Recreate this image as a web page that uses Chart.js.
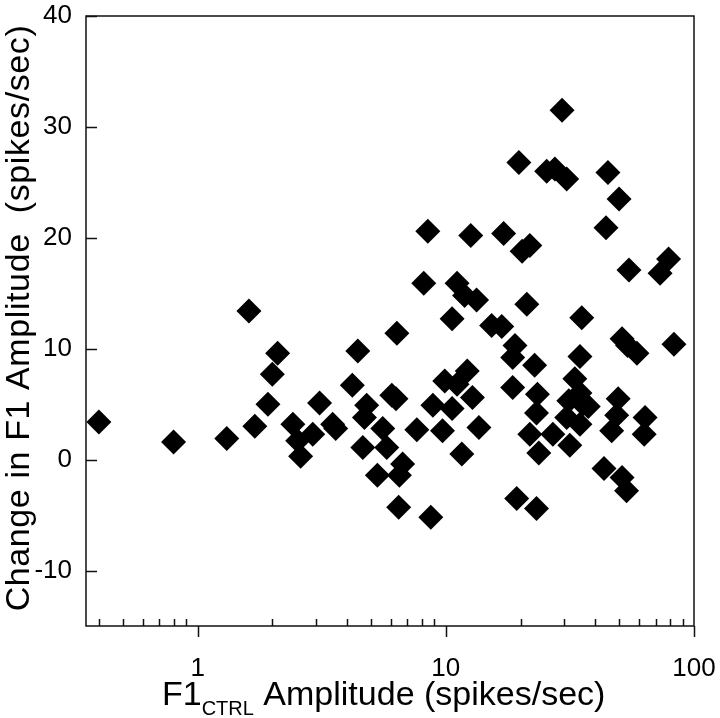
<!DOCTYPE html>
<html>
<head>
<meta charset="utf-8">
<script src="https://cdn.jsdelivr.net/npm/chart.js@4"></script>
<style>
  body { margin: 0; background: #fff; }
  #wrap { width: 720px; height: 718px; }
</style>
</head>
<body>
<div id="wrap"><canvas id="grafico" width="720" height="718"></canvas></div>
<script>
// Valores (F1 controle x variação da amplitude F1)
const f1Ctrl = [
    0.40, 0.80, 1.31, 1.61, 1.70, 1.92, 2.0, 2.1, 2.42, 2.53,
    2.6, 2.91, 3.1, 3.5, 3.6, 4.2, 4.42, 4.8, 4.7, 5.57,
    6.06, 6.3, 4.63, 5.78, 5.3, 6.7, 6.5, 6.46, 8.7, 7.64,
    8.87, 9.7, 10.6, 9.9, 12.2, 11.1, 12.8, 13.6, 11.6, 8.46,
    12.6, 8.15, 11.1, 11.9, 13.3, 10.6, 6.35, 29.4, 19.7, 25.5,
    27.5, 30.7, 45, 49.9, 44.2, 17.1, 20.3, 21.8, 54.7, 73,
    79, 21.2, 35.3, 15.3, 16.8, 19, 18.6, 22.8, 34.7, 51.3,
    58.9, 54, 83, 18.6, 23.4, 33.1, 34.7, 49.5, 23.2, 21.8,
    23.7, 27, 31.6, 31.3, 35.7, 30.7, 34.7, 37.5, 48.8, 46.6,
    63.5, 63, 43.4, 51.3, 53.5, 19.3, 23.2
];
const variacaoF1 = [
    3.4, 1.6, 1.9, 13.4, 3.0, 5.0, 7.7, 9.6, 3.2, 1.7,
    0.3, 2.3, 5.1, 3.2, 2.8, 6.7, 9.8, 4.9, 3.8, 2.8,
    5.8, 5.5, 1.1, 1.1, -1.4, -0.4, -1.4, -4.3, -5.2, 2.7,
    4.9, 2.6, 4.6, 7.1, 8.0, 6.8, 5.6, 2.9, 0.5, 20.6,
    20.2, 15.9, 15.9, 14.8, 14.4, 12.7, 11.4, 31.5, 26.8, 26.0,
    26.2, 25.3, 25.9, 23.5, 20.9, 20.4, 18.8, 19.3, 17.1, 16.8,
    18.1, 14.0, 12.8, 12.1, 12.0, 10.3, 9.2, 8.5, 9.3, 10.9,
    9.6, 10.3, 10.4, 6.5, 5.9, 7.3, 6.0, 5.5, 4.2, 2.3,
    0.6, 2.3, 1.3, 5.3, 5.0, 3.8, 3.2, 4.8, 4.0, 2.6,
    3.8, 2.3, -0.8, -1.6, -2.8, -3.5, -4.4
];

// Marcas dos eixos
const xTicksMaiores = [1, 10, 100];
const xTicksMenores = [0.4, 0.5, 0.6, 0.7, 0.8, 0.9, 2, 3, 4, 5, 6, 7, 8, 9, 20, 30, 40, 50, 60, 70, 80, 90];
const yTicks = [-10, 0, 10, 20, 30, 40];

const pontos = f1Ctrl.map((x, i) => ({ x: x, y: variacaoF1[i] }));

const fonteTicks = { family: '"Liberation Sans", Arial, sans-serif', size: 26 };

// Zera o padding automático dos rótulos para fixar a área do gráfico
const semPadding = (scale) => {
    scale.paddingLeft = 0;
    scale.paddingRight = 0;
    scale.paddingTop = 0;
    scale.paddingBottom = 0;
};

// Desenha moldura, marcas e títulos dos eixos
const eixosPlugin = {
    id: 'eixos',
    afterDraw(chart) {
        const ctx = chart.ctx;
        const area = chart.chartArea;
        const sx = chart.scales.x;
        const sy = chart.scales.y;

        ctx.save();
        ctx.strokeStyle = '#111';
        ctx.lineWidth = 1.5;
        ctx.strokeRect(area.left, area.top, area.right - area.left, area.bottom - area.top);

        ctx.beginPath();
        yTicks.forEach(v => {
            const py = Math.round(sy.getPixelForValue(v)) + 0.5;
            ctx.moveTo(area.left, py);
            ctx.lineTo(area.left + 11, py);
        });
        xTicksMaiores.forEach(v => {
            const px = Math.round(sx.getPixelForValue(v)) + 0.5;
            ctx.moveTo(px, area.bottom);
            ctx.lineTo(px, area.bottom + 11);
        });
        xTicksMenores.forEach(v => {
            const px = Math.round(sx.getPixelForValue(v)) + 0.5;
            ctx.moveTo(px, area.bottom);
            ctx.lineTo(px, area.bottom - 7);
        });
        ctx.stroke();

        // Título do eixo X com subscrito
        ctx.fillStyle = '#000';
        ctx.textBaseline = 'alphabetic';
        ctx.textAlign = 'left';
        const fonteGrande = '34px "Liberation Sans", Arial, sans-serif';
        const fontePequena = '20px "Liberation Sans", Arial, sans-serif';
        let x = 162;
        ctx.font = fonteGrande;
        ctx.fillText('F1', x, 705);
        x += ctx.measureText('F1').width;
        ctx.font = fontePequena;
        ctx.fillText('CTRL', x, 715);
        x += ctx.measureText('CTRL').width;
        ctx.font = fonteGrande;
        ctx.fillText(' Amplitude (spikes/sec)', x, 705);

        // Título do eixo Y
        ctx.translate(29, 318);
        ctx.rotate(-Math.PI / 2);
        ctx.textAlign = 'center';
        ctx.font = fonteGrande;
        ctx.letterSpacing = '0.6px';
        ctx.fillText('Change in F1 Amplitude  (spikes/sec)', 0, 0);
        ctx.restore();
    }
};

const ctx = document.getElementById('grafico').getContext('2d');
window.meuGrafico = new Chart(ctx, {
    type: 'scatter',
    data: {
        datasets: [{
            label: 'F1',
            data: pontos,
            pointStyle: 'rectRot',
            pointRadius: 12.5,
            pointBorderWidth: 0,
            backgroundColor: '#000',
            borderColor: '#000'
        }]
    },
    options: {
        responsive: false,
        animation: false,
        layout: {
            padding: { top: 16, right: 26, left: 0, bottom: 0 }
        },
        plugins: {
            legend: { display: false },
            tooltip: { enabled: false }
        },
        scales: {
            x: {
                type: 'logarithmic',
                min: 0.355,
                max: 100,
                grid: { display: false, drawTicks: false },
                border: { display: false },
                afterBuildTicks: (scale) => {
                    scale.ticks = xTicksMaiores.map(v => ({ value: v, major: true }));
                },
                afterFit: (scale) => { scale.height = 92; semPadding(scale); },
                ticks: {
                    autoSkip: false,
                    maxRotation: 0,
                    padding: 27,
                    color: '#000',
                    font: fonteTicks,
                    callback: (value) => String(value)
                }
            },
            y: {
                min: -15,
                max: 40,
                grid: { display: false, drawTicks: false },
                border: { display: false },
                afterBuildTicks: (scale) => {
                    scale.ticks = yTicks.map(v => ({ value: v }));
                },
                afterFit: (scale) => { scale.width = 86; semPadding(scale); },
                ticks: {
                    padding: 14,
                    color: '#000',
                    font: fonteTicks,
                    callback: (value) => String(value)
                }
            }
        }
    },
    plugins: [eixosPlugin]
});
</script>
</body>
</html>
